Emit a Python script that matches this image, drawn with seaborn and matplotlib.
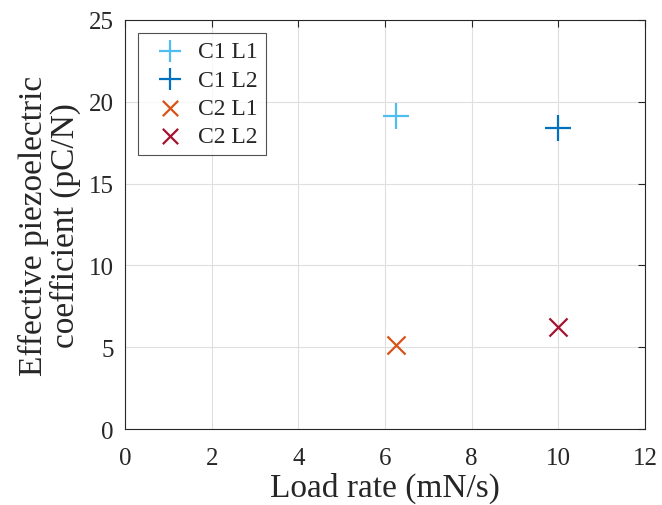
import matplotlib
matplotlib.use("Agg")
import matplotlib.pyplot as plt
import seaborn as sns
import pandas as pd

series = ["C1 L1", "C1 L2", "C2 L1", "C2 L2"]
load_rate = [6.25, 10.0, 6.25, 10.0]
coefficient = [19.1, 18.4, 5.15, 6.25]
colors = ["#4DBEEE", "#0072BD", "#D95319", "#A2142F"]
markers = ["+", "+", "x", "x"]
xticks = [0, 2, 4, 6, 8, 10, 12]
yticks = [0, 5, 10, 15, 20, 25]

df = pd.DataFrame({"series": series, "x": load_rate, "y": coefficient})

sns.set_style("white")
plt.rcParams["font.family"] = ["Liberation Serif", "DejaVu Serif"]

fig = plt.figure(figsize=(6.62, 5.06), dpi=100)
ax = fig.add_axes([0.1888, 0.1496, 0.7855, 0.8095])

ax.grid(True, color="#DFDFDF", linewidth=0.8)
ax.set_axisbelow(True)

for s, c, m in zip(series, colors, markers):
    sub = df[df.series == s]
    size = 19 if m == "+" else 13
    sns.scatterplot(data=sub, x="x", y="y", ax=ax, marker=m, color=c,
                    s=size ** 2, linewidth=1.6, label=s, zorder=3)

ax.set_xlim(0, 12)
ax.set_ylim(0, 25)
ax.set_xticks(xticks)
ax.set_yticks(yticks)
ax.tick_params(direction="in", top=True, right=True, length=5, width=0.8,
               labelsize=18, colors="#262626")
ax.tick_params(axis="x", pad=13)
ax.tick_params(axis="y", pad=8)
for sp in ax.spines.values():
    sp.set_visible(True)
    sp.set_color("#262626")
    sp.set_linewidth(0.8)

ax.set_xlabel("Load rate (mN/s)", fontsize=24, color="#262626", labelpad=2)
ax.set_ylabel("Effective piezoelectric\ncoefficient (pC/N)", fontsize=24,
              color="#262626", labelpad=6, linespacing=1.0)

leg = ax.legend(loc="upper left", fontsize=17, frameon=True, fancybox=False,
                edgecolor="#262626", borderpad=0.35, labelspacing=0.28,
                handletextpad=0.2, borderaxespad=0.55, markerscale=0.85)
leg.get_frame().set_linewidth(0.8)

fig.savefig("out.png", dpi=100)
